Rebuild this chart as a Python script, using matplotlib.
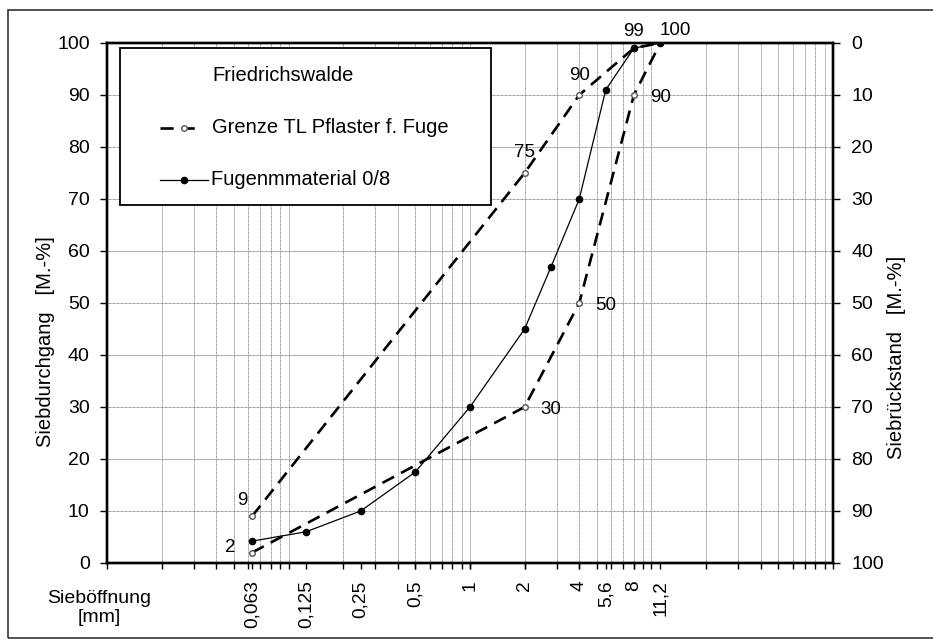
import numpy as np
import matplotlib.pyplot as plt
from matplotlib.ticker import FixedLocator, LogLocator, NullFormatter
from matplotlib.patches import Rectangle
from matplotlib.lines import Line2D

plt.rcParams['font.family'] = ['Liberation Sans', 'DejaVu Sans']

# sieve data
sieve_sizes = [0.063, 0.125, 0.25, 0.5, 1, 2, 2.8, 4, 5.6, 8, 11.2]
material = [4.2, 6, 10, 17.5, 30, 45, 57, 70, 91, 99, 100]

limit_x = [0.063, 2, 4, 8, 11.2]
limit_upper = [9, 75, 90, 99, 100]
limit_lower = [2, 30, 50, 90, 100]

tick_pos = [0.063, 0.125, 0.25, 0.5, 1, 2, 4, 5.6, 8, 11.2]
tick_labels = ["0,063", "0,125", "0,25", "0,5", "1", "2", "4", "5,6", "8", "11,2"]

fig = plt.figure(figsize=(9.33, 6.39), dpi=100)
ax = fig.add_axes([0.1147, 0.119, 0.7781, 0.8138])

# outer frame
fig.patches.append(Rectangle((0.0086, 0.0016), 1.2, 0.9827, transform=fig.transFigure,
                             fill=False, edgecolor='#333333', lw=1.2))

dash = (0, (5, 3))
ax.plot(limit_x, limit_upper, color='black', lw=1.9, linestyle=dash, zorder=3,
        marker='o', markersize=4, markerfacecolor='white', markeredgecolor='#555555')
ax.plot(limit_x, limit_lower, color='black', lw=1.9, linestyle=dash, zorder=3,
        marker='o', markersize=4, markerfacecolor='white', markeredgecolor='#555555')
ax.plot(sieve_sizes, material, color='black', lw=0.9, zorder=4,
        marker='o', markersize=4.5, markerfacecolor='black', markeredgecolor='black')

# value labels on the limit curve
fs_val = 13.5
up_offsets = [(-7, 11.5), (0, 15), (0, 14), (0, 12), (11, 9)]
for x, y, off in zip(limit_x, limit_upper, up_offsets):
    ax.annotate(str(y), (x, y), xytext=off, textcoords='offset points',
                ha='center', va='center', fontsize=fs_val, zorder=5)
low_offsets = [(-16, 4), (19, -2), (19, -2), (19, -2)]
for x, y, off in zip(limit_x[:-1], limit_lower[:-1], low_offsets):
    ax.annotate(str(y), (x, y), xytext=off, textcoords='offset points',
                ha='center', va='center', fontsize=fs_val, zorder=5)

ax.set_xscale('log')
ax.set_xlim(0.01, 100)
ax.set_ylim(0, 100)
ax.xaxis.set_major_locator(FixedLocator(tick_pos))
ax.set_xticklabels(tick_labels, rotation=90, va='top')
ax.xaxis.set_minor_locator(LogLocator(base=10, subs=np.arange(1, 10)))
ax.xaxis.set_minor_formatter(NullFormatter())
ax.xaxis.remove_overlapping_locs = False
ax.set_yticks(np.arange(0, 101, 10))

ax.tick_params(axis='x', which='both', direction='out', length=4, width=1, labelsize=13.8, pad=8.5)
ax.tick_params(axis='y', which='major', direction='out', length=5, width=1, labelsize=14, pad=7.5)

ax.grid(which='minor', axis='x', color='#808080', lw=0.6, linestyle=(0, (1, 0.6)))
ax.grid(which='major', axis='y', color='#707070', lw=0.6, linestyle=(0, (1, 0.6)))
ax.grid(which='major', axis='x', visible=False)

for s in ax.spines.values():
    s.set_linewidth(1.7)

ax2 = ax.twinx()
ax2.set_ylim(100, 0)
ax2.set_yticks(np.arange(0, 101, 10))
ax2.tick_params(axis='y', direction='out', length=5, width=1, labelsize=14, pad=8)
for s in ax2.spines.values():
    s.set_linewidth(1.7)

# legend box
fs_leg = 14.5
ax.add_patch(Rectangle((0.018, 0.688), 0.511, 0.302, transform=ax.transAxes,
                       facecolor='white', edgecolor='black', lw=1.3, zorder=6))
ax.text(0.1446, 0.938, "Friedrichswalde", transform=ax.transAxes, fontsize=fs_leg,
        va='center', ha='left', zorder=7)
ax.add_line(Line2D([0.073, 0.126], [0.837, 0.837], transform=ax.transAxes, color='black',
                   lw=1.9, linestyle=(0, (5, 3)), zorder=7))
ax.add_line(Line2D([0.106], [0.837], transform=ax.transAxes, color='#555555', marker='o',
                   markersize=4, markerfacecolor='white', zorder=8))
ax.text(0.1446, 0.837, "Grenze TL Pflaster f. Fuge", transform=ax.transAxes, fontsize=fs_leg,
        va='center', ha='left', zorder=7)
ax.add_line(Line2D([0.073, 0.139], [0.7365, 0.7365], transform=ax.transAxes, color='black',
                   lw=0.9, zorder=7))
ax.add_line(Line2D([0.106], [0.7365], transform=ax.transAxes, color='black', marker='o',
                   markersize=4.5, zorder=8))
ax.text(0.1433, 0.7365, "Fugenmmaterial 0/8", transform=ax.transAxes, fontsize=fs_leg,
        va='center', ha='left', zorder=7)

# axis titles
fig.text(46 / 933, 1 - 342 / 639, "Siebdurchgang   [M.-%]", rotation=90,
         ha='center', va='center', fontsize=14.5)
fig.text(896 / 933, 1 - 357 / 639, "Siebrückstand   [M.-%]", rotation=90,
         ha='center', va='center', fontsize=14.5)
fig.text(99 / 933, 1 - 608 / 639, "Sieböffnung\n[mm]", ha='center', va='center',
         fontsize=14, linespacing=1.15)

fig.savefig("out.png", dpi=100)
